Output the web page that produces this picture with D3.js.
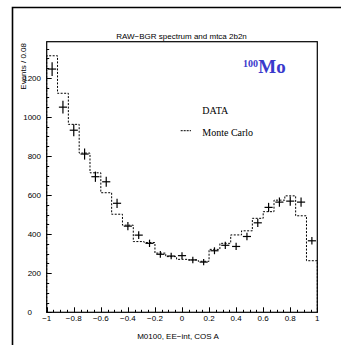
<!DOCTYPE html>
<html><head><meta charset="utf-8">
<script src="https://cdn.jsdelivr.net/npm/d3@7"></script>
<style>html,body{margin:0;padding:0;background:#fff;}svg{display:block;}</style>
</head><body>
<script>
// ---- data ----
const binEdges = [-1, 1];           // histogram range
const binWidth = 0.08;
const dataCounts = [1245, 1050, 932, 810, 694, 668, 558, 441, 395, 353, 297, 288, 290, 268, 257, 315, 343, 337, 388, 458, 537, 564, 569, 564, 366];
const mcCounts   = [1313, 1121, 962, 815, 714, 612, 502, 446, 362, 357, 303, 285, 271, 268, 261, 322, 353, 396, 417, 481, 515, 574, 596, 494, 264];
const yTicks = [0, 200, 400, 600, 800, 1000, 1200];
const xTicks = [-1, -0.8, -0.6, -0.4, -0.2, 0, 0.2, 0.4, 0.6, 0.8, 1];
const xTickLabels = ["\u22121", "\u22120.8", "\u22120.6", "\u22120.4", "\u22120.2", "0", "0.2", "0.4", "0.6", "0.8", "1"];
const titleText = "RAW\u2212BGR spectrum and mtca 2b2n";
const xTitle = "M0100, EE\u2212int, COS A";
const yTitle = "Events / 0.08";
const legendItems = ["DATA", "Monte Carlo"];

const W = 341, H = 345;
const svg = d3.select("body").append("svg").attr("width", W).attr("height", H);
const sans = "'Liberation Sans', Arial, Helvetica, sans-serif";
const serif = "'Liberation Serif', 'Times New Roman', serif";

// outer frame
svg.append("path").attr("d", `M12.5,${H} L12.5,7.5 L${W},7.5`).attr("fill", "none").attr("stroke", "#000").attr("stroke-width", 1.6);

const x = d3.scaleLinear().domain(binEdges).range([46.7, 317.3]);
const y = d3.scaleLinear().domain([0, 1385]).range([312.3, 41.7]);

const g = svg.append("g");

// minor/major ticks
const yMinor = d3.range(0, 1385, 50);
g.selectAll(".yt").data(yMinor).enter().append("line")
  .attr("x1", x(-1)).attr("x2", d => x(-1) + (d % 200 === 0 ? 5 : 2.5))
  .attr("y1", d => Math.round(y(d)) + 0.5).attr("y2", d => Math.round(y(d)) + 0.5)
  .attr("stroke", "#000").attr("stroke-width", 1);
const xMinor = d3.range(0, 41).map(i => -1 + i * 0.05);
g.selectAll(".xt").data(xMinor).enter().append("line")
  .attr("x1", d => Math.round(x(d)) + 0.5).attr("x2", d => Math.round(x(d)) + 0.5)
  .attr("y1", y(0)).attr("y2", (d, i) => y(0) - (i % 4 === 0 ? 5 : 2.5))
  .attr("stroke", "#000").attr("stroke-width", 1);

// MC dashed histogram
const centers = dataCounts.map((d, i) => binEdges[0] + binWidth * (i + 0.5));
let p = d3.path();
p.moveTo(x(binEdges[0]), y(0));
mcCounts.forEach((v, i) => {
  const x0 = x(binEdges[0] + i * binWidth), x1 = x(binEdges[0] + (i + 1) * binWidth);
  p.lineTo(x0, y(v)); p.lineTo(x1, y(v));
});
p.lineTo(x(binEdges[1]), y(0));
g.append("path").attr("d", p.toString()).attr("fill", "none").attr("stroke", "#000")
  .attr("stroke-width", 1).attr("stroke-dasharray", "2,1.5");

// data crosses
const cr = g.selectAll(".pt").data(dataCounts).enter().append("g");
cr.append("line")
  .attr("x1", (d, i) => x(centers[i] - 0.03)).attr("x2", (d, i) => x(centers[i] + 0.03))
  .attr("y1", d => y(d)).attr("y2", d => y(d)).attr("stroke", "#000").attr("stroke-width", 1.2);
cr.append("line")
  .attr("x1", (d, i) => x(centers[i])).attr("x2", (d, i) => x(centers[i]))
  .attr("y1", d => y(d + Math.sqrt(d))).attr("y2", d => y(d - Math.sqrt(d))).attr("stroke", "#000").attr("stroke-width", 1.2);

// plot frame
g.append("rect").attr("x", x(-1)).attr("y", y(1385)).attr("width", x(1) - x(-1)).attr("height", y(0) - y(1385))
  .attr("fill", "none").attr("stroke", "#000").attr("stroke-width", 1.2);

// tick labels
g.selectAll(".yl").data(yTicks).enter().append("text")
  .attr("x", d => d === 0 ? 32 : 41).attr("y", d => y(d) + 3)
  .attr("text-anchor", "end").attr("font-family", sans).attr("font-size", 8).text(d => d);
g.selectAll(".xl").data(xTicks).enter().append("text")
  .attr("x", d => x(d)).attr("y", 321)
  .attr("text-anchor", "middle").attr("font-family", sans).attr("font-size", 8).text((d, i) => xTickLabels[i]);

// titles
svg.append("text").attr("x", 181.5).attr("y", 38.5).attr("text-anchor", "middle")
  .attr("font-family", sans).attr("font-size", 8).text(titleText);
svg.append("text").attr("x", 178).attr("y", 338.5).attr("text-anchor", "middle")
  .attr("font-family", sans).attr("font-size", 8).text(xTitle);
svg.append("text").attr("transform", "translate(26,43) rotate(-90)").attr("text-anchor", "end")
  .attr("font-family", sans).attr("font-size", 8).text(yTitle);

// 100Mo label
const mo = svg.append("text").attr("x", 243).attr("y", 72.5).attr("font-family", serif)
  .attr("font-weight", "bold").attr("fill", "#3a3acc");
mo.append("tspan").attr("font-size", 10).attr("dy", -6).text("100");
mo.append("tspan").attr("font-size", 19).attr("dy", 6).attr("dx", 0.3).text("Mo");

// legend
svg.append("text").attr("x", 202.3).attr("y", 114).attr("font-family", serif).attr("font-size", 10).text(legendItems[0]);
svg.append("line").attr("x1", 180.7).attr("x2", 191).attr("y1", 130.7).attr("y2", 130.7)
  .attr("stroke", "#000").attr("stroke-width", 1).attr("stroke-dasharray", "2,1");
svg.append("text").attr("x", 202.3).attr("y", 135.7).attr("font-family", serif).attr("font-size", 10).text(legendItems[1]);
</script>
</body></html>
